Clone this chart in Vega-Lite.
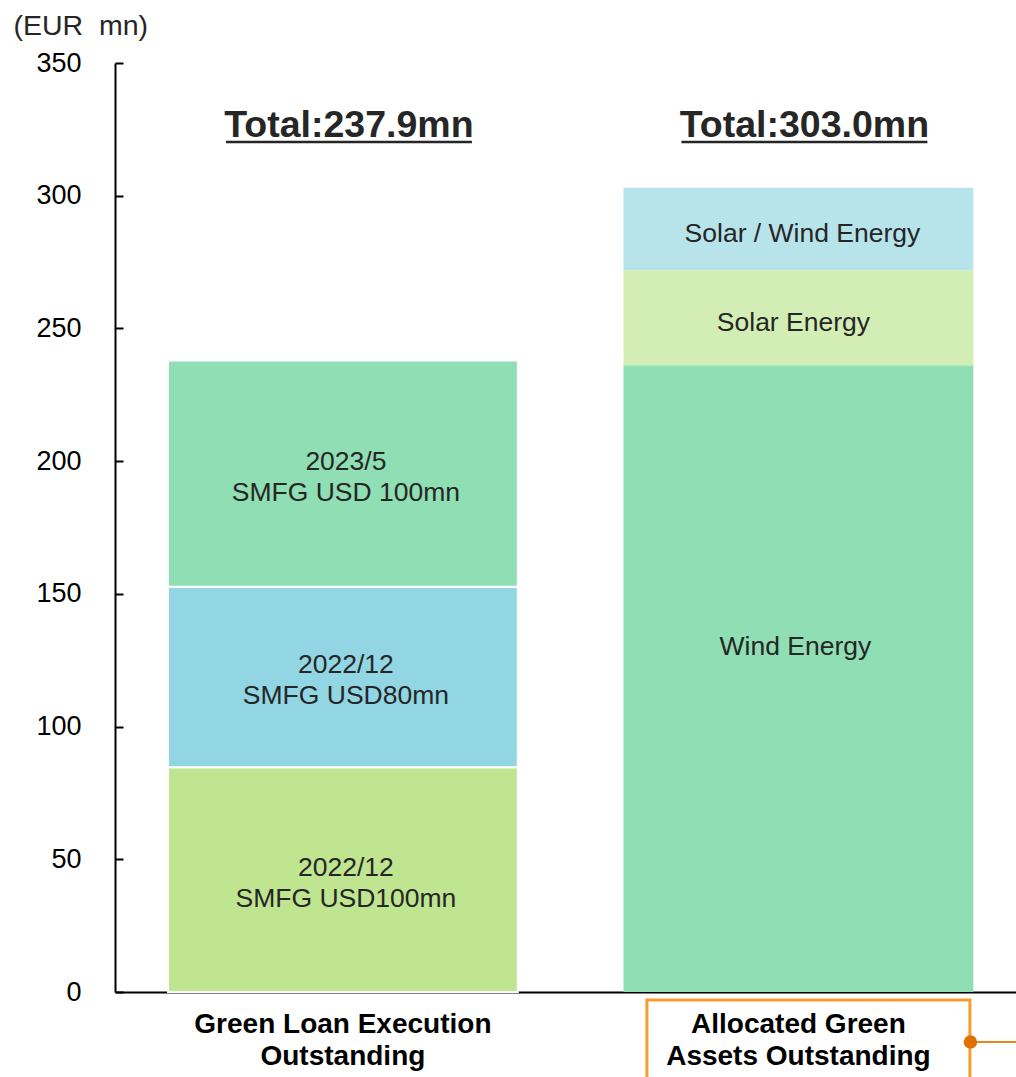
{
  "$schema": "https://vega.github.io/schema/vega-lite/v6.json",
  "autosize": "none",
  "padding": {"left": 115, "top": 63, "right": 0, "bottom": 85},
  "width": 901,
  "height": 929,
  "background": "white",
  "config": {"view": {"stroke": null}, "font": "Liberation Sans"},
  "datasets": {
    "segs": [
      {"cat": "Green Loan Execution Outstanding", "seg": "2022/12\nSMFG USD100mn", "value": 84.7, "ord": 1},
      {"cat": "Green Loan Execution Outstanding", "seg": "2022/12\nSMFG USD80mn", "value": 68.0, "ord": 2},
      {"cat": "Green Loan Execution Outstanding", "seg": "2023/5\nSMFG USD 100mn", "value": 85.2, "ord": 3},
      {"cat": "Allocated Green Assets Outstanding", "seg": "Wind Energy", "value": 236.1, "ord": 1},
      {"cat": "Allocated Green Assets Outstanding", "seg": "Solar Energy", "value": 35.8, "ord": 2},
      {"cat": "Allocated Green Assets Outstanding", "seg": "Solar / Wind Energy", "value": 31.1, "ord": 3}
    ],
    "totals": [
      {"cat": "Green Loan Execution Outstanding", "label": "Total:237.9mn"},
      {"cat": "Allocated Green Assets Outstanding", "label": "Total:303.0mn"}
    ],
    "marker": [
      {"cat": "Allocated Green Assets Outstanding"}
    ]
  },
  "encoding": {
    "x": {
      "field": "cat",
      "type": "nominal",
      "sort": ["Green Loan Execution Outstanding", "Allocated Green Assets Outstanding"],
      "scale": {"paddingInner": 0.232, "paddingOuter": 0.105, "align": 0.554},
      "axis": {
        "title": null,
        "labelAngle": 0,
        "ticks": false,
        "domainColor": "#000000",
        "domainWidth": 2,
        "labelFontSize": 28,
        "labelFontWeight": "bold",
        "labelColor": "#000000",
        "labelBaseline": "top",
        "labelPadding": 18,
        "labelLineHeight": 32,
        "labelLimit": 0,
        "labelExpr": "datum.value == 'Green Loan Execution Outstanding' ? ['Green Loan Execution', 'Outstanding'] : ['Allocated Green', 'Assets Outstanding']"
      }
    }
  },
  "layer": [
    {
      "data": {"name": "segs"},
      "mark": {"type": "bar", "stroke": "white"},
      "encoding": {
        "y": {
          "field": "value",
          "type": "quantitative",
          "stack": "zero",
          "scale": {"domain": [0, 350], "nice": false},
          "axis": {
            "values": [0, 50, 100, 150, 200, 250, 300, 350],
            "grid": false,
            "domainColor": "#000000",
            "domainWidth": 2,
            "tickColor": "#000000",
            "tickWidth": 2,
            "tickSize": -8,
            "labelPadding": 42,
            "labelFontSize": 27,
            "labelColor": "#000000",
            "title": "(EUR\u00a0\u00a0mn)",
            "titleAngle": 0,
            "titleAlign": "left",
            "titleBaseline": "middle",
            "titleX": -102,
            "titleY": -38,
            "titleFontSize": 28.5,
            "titleFontWeight": "normal",
            "titleColor": "#262626"
          }
        },
        "order": {"field": "ord", "type": "quantitative"},
        "color": {
          "field": "seg",
          "type": "nominal",
          "legend": null,
          "scale": {
            "domain": ["2022/12\nSMFG USD100mn", "2022/12\nSMFG USD80mn", "2023/5\nSMFG USD 100mn", "Wind Energy", "Solar Energy", "Solar / Wind Energy"],
            "range": ["#BFE590", "#92D6E3", "#8FDEB4", "#8FDEB4", "#D3EEB4", "#B7E3EB"]
          }
        },
        "strokeWidth": {
          "condition": {"test": "datum.cat === 'Green Loan Execution Outstanding'", "value": 2},
          "value": 0
        }
      }
    },
    {
      "data": {"name": "segs"},
      "transform": [
        {"stack": "value", "groupby": ["cat"], "sort": [{"field": "ord"}], "as": ["v0", "v1"]},
        {"calculate": "(datum.v0 + datum.v1) / 2", "as": "mid"},
        {"calculate": "split(datum.seg, '\\n')", "as": "lines"},
        {"filter": "datum.cat === 'Green Loan Execution Outstanding'"}
      ],
      "mark": {"type": "text", "fontSize": 26.5, "color": "#262626", "baseline": "middle", "lineHeight": 31, "dy": -12, "xOffset": 3},
      "encoding": {
        "y": {"field": "mid", "type": "quantitative"},
        "text": {"field": "lines"}
      }
    },
    {
      "data": {"name": "segs"},
      "transform": [
        {"stack": "value", "groupby": ["cat"], "sort": [{"field": "ord"}], "as": ["v0", "v1"]},
        {"calculate": "(datum.v0 + datum.v1) / 2", "as": "mid"},
        {"filter": "datum.seg === 'Solar / Wind Energy'"}
      ],
      "mark": {"type": "text", "fontSize": 26.5, "color": "#262626", "baseline": "middle", "dy": 5, "xOffset": 4},
      "encoding": {
        "y": {"field": "mid", "type": "quantitative"},
        "text": {"field": "seg"}
      }
    },
    {
      "data": {"name": "segs"},
      "transform": [
        {"stack": "value", "groupby": ["cat"], "sort": [{"field": "ord"}], "as": ["v0", "v1"]},
        {"calculate": "(datum.v0 + datum.v1) / 2", "as": "mid"},
        {"filter": "datum.seg === 'Solar Energy'"}
      ],
      "mark": {"type": "text", "fontSize": 26.5, "color": "#262626", "baseline": "middle", "dy": 5, "xOffset": -5},
      "encoding": {
        "y": {"field": "mid", "type": "quantitative"},
        "text": {"field": "seg"}
      }
    },
    {
      "data": {"name": "segs"},
      "transform": [
        {"stack": "value", "groupby": ["cat"], "sort": [{"field": "ord"}], "as": ["v0", "v1"]},
        {"calculate": "(datum.v0 + datum.v1) / 2", "as": "mid"},
        {"filter": "datum.seg === 'Wind Energy'"}
      ],
      "mark": {"type": "text", "fontSize": 26.5, "color": "#262626", "baseline": "middle", "dy": -32, "xOffset": -3},
      "encoding": {
        "y": {"field": "mid", "type": "quantitative"},
        "text": {"field": "seg"}
      }
    },
    {
      "data": {"name": "totals"},
      "mark": {"type": "text", "fontSize": 37.5, "fontWeight": "bold", "color": "#262626", "baseline": "alphabetic", "xOffset": 6},
      "encoding": {
        "y": {"datum": 322},
        "text": {"field": "label"}
      }
    },
    {
      "data": {"name": "totals"},
      "mark": {"type": "tick", "color": "#262626", "thickness": 2.5, "size": 246, "xOffset": 6, "opacity": 1},
      "encoding": {
        "y": {"datum": 320.2}
      }
    },
    {
      "data": {"name": "marker"},
      "mark": {"type": "bar", "fill": null, "fillOpacity": 0, "stroke": "#F59D33", "strokeWidth": 3, "width": 323, "xOffset": 10},
      "encoding": {
        "y": {"datum": -3},
        "y2": {"datum": -40}
      }
    },
    {
      "data": {"name": "marker"},
      "mark": {"type": "rule", "color": "#E8851F", "strokeWidth": 2, "xOffset": 172, "x2Offset": 240},
      "encoding": {
        "y": {"datum": -18.8},
        "x2": {"field": "cat"}
      }
    },
    {
      "data": {"name": "marker"},
      "mark": {"type": "point", "filled": true, "color": "#E07000", "size": 180, "opacity": 1, "xOffset": 172},
      "encoding": {
        "y": {"datum": -18.8}
      }
    }
  ]
}
